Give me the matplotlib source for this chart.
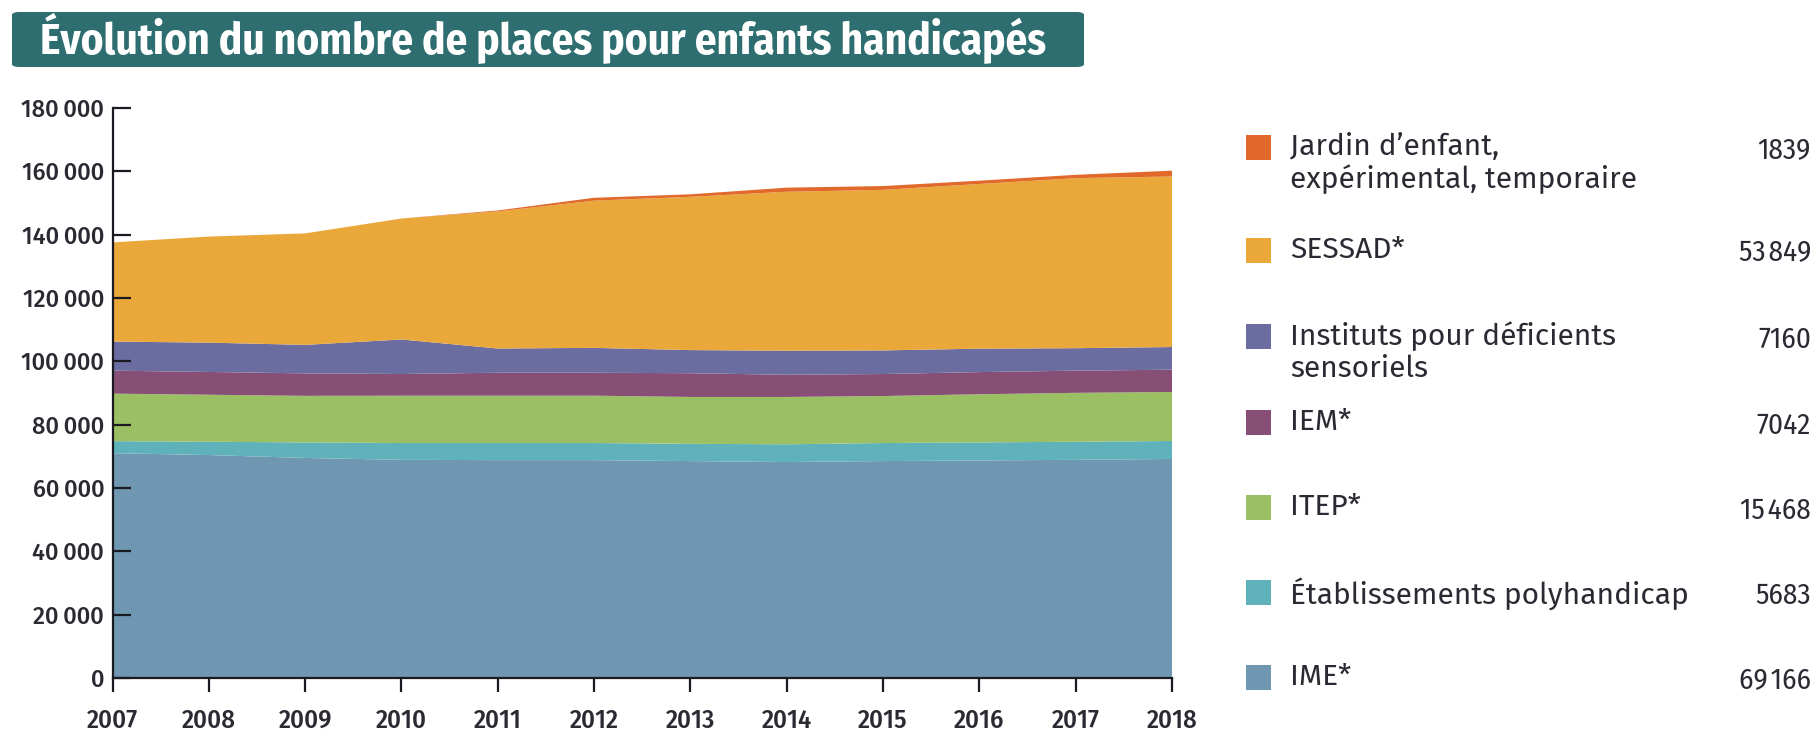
import matplotlib.pyplot as plt
from matplotlib.patches import Rectangle, FancyBboxPatch
from matplotlib.ticker import FuncFormatter

# ── Données ────────────────────────────────────────────────────────────────
annees = list(range(2007, 2019))

ime = [71000, 70400, 69500, 68900, 68800, 68800, 68500, 68200, 68500, 68700, 68900, 69166]
polyhandicap = [3800, 4200, 4900, 5300, 5400, 5400, 5450, 5600, 5700, 5700, 5700, 5683]
itep = [15000, 14850, 14700, 14950, 14950, 14950, 14800, 14950, 14850, 15200, 15450, 15468]
iem = [7250, 7200, 7100, 6850, 7250, 7250, 7500, 7000, 6950, 7000, 7000, 7042]
instituts = [9200, 9250, 9000, 10900, 7650, 7850, 7300, 7600, 7450, 7400, 7100, 7160]
sessad = [31300, 33500, 35200, 38200, 43300, 46500, 48400, 50200, 50700, 52000, 53700, 53849]
jardin = [0, 0, 0, 0, 300, 900, 800, 1300, 1200, 1050, 1050, 1839]

series = [ime, polyhandicap, itep, iem, instituts, sessad, jardin]
couleurs = ['#6F97B1', '#5FB1BA', '#9BC063', '#874F75', '#6B6DA0', '#EBA83A', '#E0692B']

# légende (de haut en bas)
leg_labels = ["Jardin d\u2019enfant,\nexpérimental, temporaire", "SESSAD*",
              "Instituts pour déficients\nsensoriels", "IEM*", "ITEP*",
              "Établissements polyhandicap", "IME*"]
leg_valeurs = [1839, 53849, 7160, 7042, 15468, 5683, 69166]
leg_couleurs = couleurs[::-1]

W, H = 1818, 734
NARROW = ['Fira Sans Condensed', 'Barlow Semi Condensed', 'DejaVu Sans']
LARGE = ['Fira Sans', 'DejaVu Sans']
TXT = '#2a2a33'

fig = plt.figure(figsize=(W / 100, H / 100), dpi=100)
fig.patch.set_facecolor('white')

# ── Bandeau titre ───────────────────────────────────────────────────────────
box = FancyBboxPatch((12 / W, 1 - 67 / H), (1084 - 12) / W, (67 - 12) / H,
                     boxstyle='round,pad=0,rounding_size=0.004',
                     transform=fig.transFigure, facecolor='#2E6E70',
                     edgecolor='none', zorder=0)
fig.patches.append(box)
fig.text(40 / W, 1 - 38 / H, "Évolution du nombre de places pour enfants handicapés",
         fontsize=31, fontweight='bold', color='white', family=NARROW,
         ha='left', va='center')

# ── Aires empilées ──────────────────────────────────────────────────────────
ax = fig.add_axes([112.5 / W, 1 - 678 / H, (1172 - 112.5) / W, (678 - 108) / H])
ax.stackplot(annees, *series, colors=couleurs, linewidth=0)

ax.set_xlim(2007, 2018)
ax.set_ylim(0, 180000)
ax.set_xticks(annees)
ax.set_yticks(range(0, 180001, 20000))
ax.yaxis.set_major_formatter(FuncFormatter(lambda v, p: f"{int(v):,}".replace(',', '\u2009')))

for s in ['top', 'right']:
    ax.spines[s].set_visible(False)
for s in ['left', 'bottom']:
    ax.spines[s].set_linewidth(1.6)
    ax.spines[s].set_color('#1a1a22')

ax.tick_params(axis='y', direction='in', length=13, width=1.6, color='#1a1a22',
               labelsize=17, labelcolor=TXT, pad=6)
ax.tick_params(axis='x', direction='out', length=10, width=1.6, color='#1a1a22',
               labelsize=19, labelcolor=TXT, pad=12)
for lab in ax.get_yticklabels():
    lab.set_family(LARGE)
    lab.set_fontweight('medium')
for lab in ax.get_xticklabels():
    lab.set_family(NARROW)
    lab.set_fontweight('medium')

# ── Légende ─────────────────────────────────────────────────────────────────
rows_y = [147, 250, 336, 422, 507, 592, 677]
for lab, val, col, yy in zip(leg_labels, leg_valeurs, leg_couleurs, rows_y):
    fig.patches.append(Rectangle((1246 / W, 1 - (yy + 13) / H), 25 / W, 25 / H,
                                 transform=fig.transFigure, facecolor=col,
                                 edgecolor='none'))
    fig.text(1290 / W, 1 - (yy - 15) / H, lab, fontsize=21.5, color=TXT,
             family=LARGE, ha='left', va='top', linespacing=1.15)
    txt = f"{val:,}".replace(',', '\u200a') if val >= 10000 else str(val)
    fig.text(1811 / W, 1 - (yy - 11) / H, txt, fontsize=21, color=TXT,
             family=NARROW, ha='right', va='top')

fig.savefig('out.png', dpi=100)
